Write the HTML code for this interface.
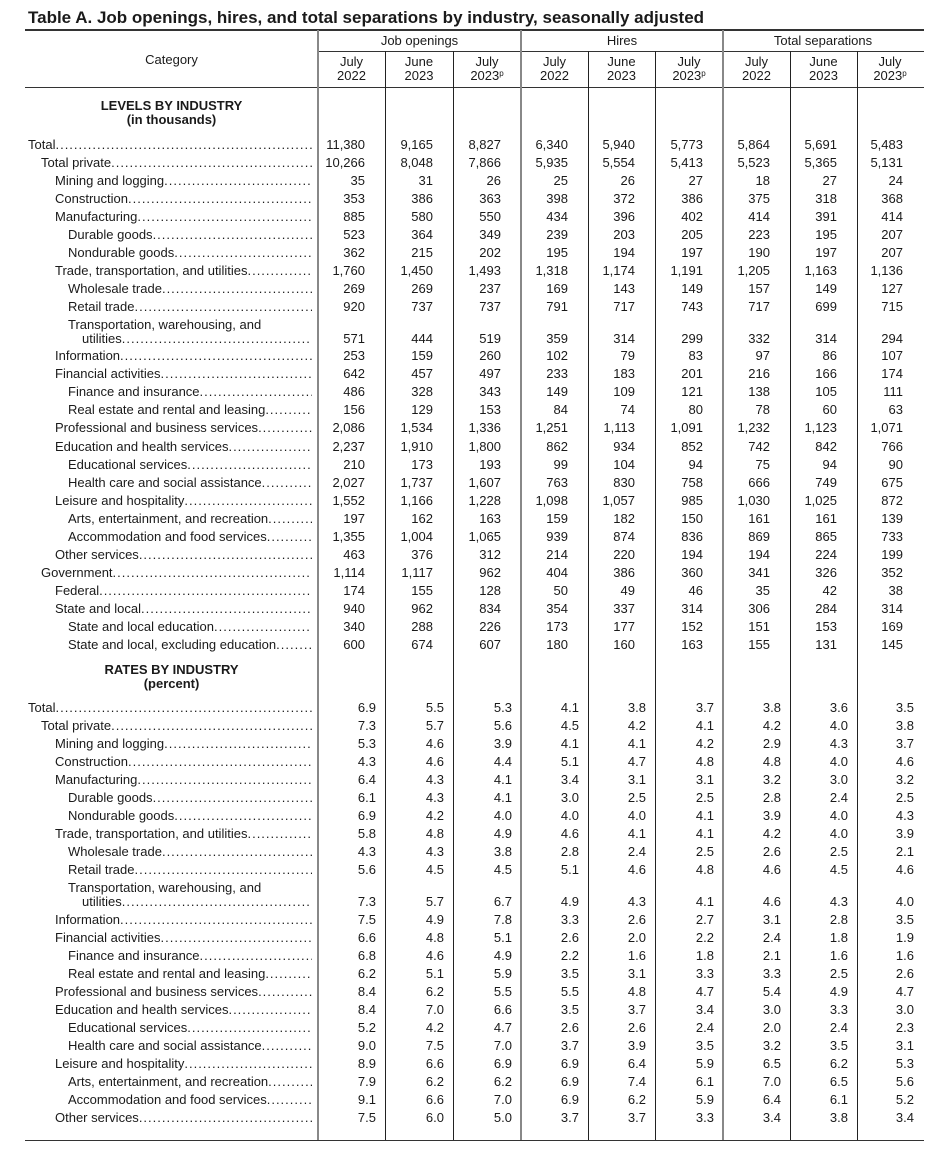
<!DOCTYPE html>
<html><head><meta charset="utf-8"><style>
body{margin:0;background:#fff;width:949px;height:1158px;position:relative;overflow:hidden;font-family:"Liberation Sans",Arial,sans-serif;color:#1a1a1a;font-size:13px}
.t{position:absolute;left:28px;top:8px;font-weight:bold;font-size:17px;white-space:nowrap}
.h{position:absolute;background:#333}
.v{position:absolute;top:51px;height:1089px;width:1px;background:#222}
.g{top:30px;height:1110px;width:2px;background:#888}
.c{position:absolute;text-align:center;line-height:14px}
.r{position:absolute;left:0;width:949px;height:16px;line-height:16px}
.l{position:absolute;top:0;white-space:nowrap;overflow:hidden}
.l span{letter-spacing:1px}
.r i{position:absolute;top:0;font-style:normal;text-align:right}
.r i:nth-of-type(1){left:318px;width:67px}
.r i:nth-of-type(2){left:385px;width:68px}
.r i:nth-of-type(3){left:453px;width:68px}
.r i:nth-of-type(4){left:521px;width:67px}
.r i:nth-of-type(5){left:588px;width:67px}
.r i:nth-of-type(6){left:655px;width:68px}
.r i:nth-of-type(7){left:723px;width:67px}
.r i:nth-of-type(8){left:790px;width:67px}
.r i:nth-of-type(9){left:857px;width:66px}
.L i{box-sizing:border-box;padding-right:20px}
.R i{box-sizing:border-box;padding-right:9px}
.i0{left:28px;width:284px}.i1{left:41px;width:271px}.i2{left:55px;width:257px}.i3{left:68px;width:244px}.i4{left:82px;width:230px}
.sec{position:absolute;left:25px;width:293px;text-align:center;font-weight:bold;line-height:14px}
sup{font-size:8px;vertical-align:4px;line-height:0}
</style></head><body>
<div class="t">Table A. Job openings, hires, and total separations by industry, seasonally adjusted</div>
<div class="h" style="left:25px;top:29px;width:899px;height:2px"></div>
<div class="h" style="left:318px;top:51px;width:606px;height:1px"></div>
<div class="h" style="left:25px;top:87px;width:899px;height:1px"></div>
<div class="h" style="left:25px;top:1140px;width:899px;height:1px"></div>
<div class="v g" style="left:317px"></div>
<div class="v" style="left:385px"></div>
<div class="v" style="left:453px"></div>
<div class="v g" style="left:520px"></div>
<div class="v" style="left:588px"></div>
<div class="v" style="left:655px"></div>
<div class="v g" style="left:722px"></div>
<div class="v" style="left:790px"></div>
<div class="v" style="left:857px"></div>
<div class="c" style="left:25px;width:293px;top:53px">Category</div>
<div class="c" style="left:318px;width:203px;top:34px">Job openings</div>
<div class="c" style="left:521px;width:202px;top:34px">Hires</div>
<div class="c" style="left:723px;width:200px;top:34px">Total separations</div>
<div class="c" style="left:318px;width:67px;top:55px">July<br>2022</div>
<div class="c" style="left:385px;width:68px;top:55px">June<br>2023</div>
<div class="c" style="left:453px;width:68px;top:55px">July<br>2023<sup>p</sup></div>
<div class="c" style="left:521px;width:67px;top:55px">July<br>2022</div>
<div class="c" style="left:588px;width:67px;top:55px">June<br>2023</div>
<div class="c" style="left:655px;width:68px;top:55px">July<br>2023<sup>p</sup></div>
<div class="c" style="left:723px;width:67px;top:55px">July<br>2022</div>
<div class="c" style="left:790px;width:67px;top:55px">June<br>2023</div>
<div class="c" style="left:857px;width:66px;top:55px">July<br>2023<sup>p</sup></div>
<div class="sec" style="top:99px">LEVELS BY INDUSTRY<br>(in thousands)</div>
<div class="sec" style="top:663px">RATES BY INDUSTRY<br>(percent)</div>

<div class="r L" style="top:137px"><div class="l i0">Total<span>..............................................................................</span></div><i>11,380</i><i>9,165</i><i>8,827</i><i>6,340</i><i>5,940</i><i>5,773</i><i>5,864</i><i>5,691</i><i>5,483</i></div>
<div class="r L" style="top:155px"><div class="l i1">Total private<span>..............................................................................</span></div><i>10,266</i><i>8,048</i><i>7,866</i><i>5,935</i><i>5,554</i><i>5,413</i><i>5,523</i><i>5,365</i><i>5,131</i></div>
<div class="r L" style="top:173px"><div class="l i2">Mining and logging<span>..............................................................................</span></div><i>35</i><i>31</i><i>26</i><i>25</i><i>26</i><i>27</i><i>18</i><i>27</i><i>24</i></div>
<div class="r L" style="top:191px"><div class="l i2">Construction<span>..............................................................................</span></div><i>353</i><i>386</i><i>363</i><i>398</i><i>372</i><i>386</i><i>375</i><i>318</i><i>368</i></div>
<div class="r L" style="top:209px"><div class="l i2">Manufacturing<span>..............................................................................</span></div><i>885</i><i>580</i><i>550</i><i>434</i><i>396</i><i>402</i><i>414</i><i>391</i><i>414</i></div>
<div class="r L" style="top:227px"><div class="l i3">Durable goods<span>..............................................................................</span></div><i>523</i><i>364</i><i>349</i><i>239</i><i>203</i><i>205</i><i>223</i><i>195</i><i>207</i></div>
<div class="r L" style="top:245px"><div class="l i3">Nondurable goods<span>..............................................................................</span></div><i>362</i><i>215</i><i>202</i><i>195</i><i>194</i><i>197</i><i>190</i><i>197</i><i>207</i></div>
<div class="r L" style="top:263px"><div class="l i2">Trade, transportation, and utilities<span>..............................................................................</span></div><i>1,760</i><i>1,450</i><i>1,493</i><i>1,318</i><i>1,174</i><i>1,191</i><i>1,205</i><i>1,163</i><i>1,136</i></div>
<div class="r L" style="top:281px"><div class="l i3">Wholesale trade<span>..............................................................................</span></div><i>269</i><i>269</i><i>237</i><i>169</i><i>143</i><i>149</i><i>157</i><i>149</i><i>127</i></div>
<div class="r L" style="top:299px"><div class="l i3">Retail trade<span>..............................................................................</span></div><i>920</i><i>737</i><i>737</i><i>791</i><i>717</i><i>743</i><i>717</i><i>699</i><i>715</i></div>
<div class="r L" style="top:317px"><div class="l i3">Transportation, warehousing, and</div></div>
<div class="r L" style="top:331px"><div class="l i4">utilities<span>..............................................................................</span></div><i>571</i><i>444</i><i>519</i><i>359</i><i>314</i><i>299</i><i>332</i><i>314</i><i>294</i></div>
<div class="r L" style="top:348px"><div class="l i2">Information<span>..............................................................................</span></div><i>253</i><i>159</i><i>260</i><i>102</i><i>79</i><i>83</i><i>97</i><i>86</i><i>107</i></div>
<div class="r L" style="top:366px"><div class="l i2">Financial activities<span>..............................................................................</span></div><i>642</i><i>457</i><i>497</i><i>233</i><i>183</i><i>201</i><i>216</i><i>166</i><i>174</i></div>
<div class="r L" style="top:384px"><div class="l i3">Finance and insurance<span>..............................................................................</span></div><i>486</i><i>328</i><i>343</i><i>149</i><i>109</i><i>121</i><i>138</i><i>105</i><i>111</i></div>
<div class="r L" style="top:402px"><div class="l i3">Real estate and rental and leasing<span>..............................................................................</span></div><i>156</i><i>129</i><i>153</i><i>84</i><i>74</i><i>80</i><i>78</i><i>60</i><i>63</i></div>
<div class="r L" style="top:420px"><div class="l i2">Professional and business services<span>..............................................................................</span></div><i>2,086</i><i>1,534</i><i>1,336</i><i>1,251</i><i>1,113</i><i>1,091</i><i>1,232</i><i>1,123</i><i>1,071</i></div>
<div class="r L" style="top:439px"><div class="l i2">Education and health services<span>..............................................................................</span></div><i>2,237</i><i>1,910</i><i>1,800</i><i>862</i><i>934</i><i>852</i><i>742</i><i>842</i><i>766</i></div>
<div class="r L" style="top:457px"><div class="l i3">Educational services<span>..............................................................................</span></div><i>210</i><i>173</i><i>193</i><i>99</i><i>104</i><i>94</i><i>75</i><i>94</i><i>90</i></div>
<div class="r L" style="top:475px"><div class="l i3">Health care and social assistance<span>..............................................................................</span></div><i>2,027</i><i>1,737</i><i>1,607</i><i>763</i><i>830</i><i>758</i><i>666</i><i>749</i><i>675</i></div>
<div class="r L" style="top:493px"><div class="l i2">Leisure and hospitality<span>..............................................................................</span></div><i>1,552</i><i>1,166</i><i>1,228</i><i>1,098</i><i>1,057</i><i>985</i><i>1,030</i><i>1,025</i><i>872</i></div>
<div class="r L" style="top:511px"><div class="l i3">Arts, entertainment, and recreation<span>..............................................................................</span></div><i>197</i><i>162</i><i>163</i><i>159</i><i>182</i><i>150</i><i>161</i><i>161</i><i>139</i></div>
<div class="r L" style="top:529px"><div class="l i3">Accommodation and food services<span>..............................................................................</span></div><i>1,355</i><i>1,004</i><i>1,065</i><i>939</i><i>874</i><i>836</i><i>869</i><i>865</i><i>733</i></div>
<div class="r L" style="top:547px"><div class="l i2">Other services<span>..............................................................................</span></div><i>463</i><i>376</i><i>312</i><i>214</i><i>220</i><i>194</i><i>194</i><i>224</i><i>199</i></div>
<div class="r L" style="top:565px"><div class="l i1">Government<span>..............................................................................</span></div><i>1,114</i><i>1,117</i><i>962</i><i>404</i><i>386</i><i>360</i><i>341</i><i>326</i><i>352</i></div>
<div class="r L" style="top:583px"><div class="l i2">Federal<span>..............................................................................</span></div><i>174</i><i>155</i><i>128</i><i>50</i><i>49</i><i>46</i><i>35</i><i>42</i><i>38</i></div>
<div class="r L" style="top:601px"><div class="l i2">State and local<span>..............................................................................</span></div><i>940</i><i>962</i><i>834</i><i>354</i><i>337</i><i>314</i><i>306</i><i>284</i><i>314</i></div>
<div class="r L" style="top:619px"><div class="l i3">State and local education<span>..............................................................................</span></div><i>340</i><i>288</i><i>226</i><i>173</i><i>177</i><i>152</i><i>151</i><i>153</i><i>169</i></div>
<div class="r L" style="top:637px"><div class="l i3">State and local, excluding education<span>..............................................................................</span></div><i>600</i><i>674</i><i>607</i><i>180</i><i>160</i><i>163</i><i>155</i><i>131</i><i>145</i></div>

<div class="r R" style="top:700px"><div class="l i0">Total<span>..............................................................................</span></div><i>6.9</i><i>5.5</i><i>5.3</i><i>4.1</i><i>3.8</i><i>3.7</i><i>3.8</i><i>3.6</i><i>3.5</i></div>
<div class="r R" style="top:718px"><div class="l i1">Total private<span>..............................................................................</span></div><i>7.3</i><i>5.7</i><i>5.6</i><i>4.5</i><i>4.2</i><i>4.1</i><i>4.2</i><i>4.0</i><i>3.8</i></div>
<div class="r R" style="top:736px"><div class="l i2">Mining and logging<span>..............................................................................</span></div><i>5.3</i><i>4.6</i><i>3.9</i><i>4.1</i><i>4.1</i><i>4.2</i><i>2.9</i><i>4.3</i><i>3.7</i></div>
<div class="r R" style="top:754px"><div class="l i2">Construction<span>..............................................................................</span></div><i>4.3</i><i>4.6</i><i>4.4</i><i>5.1</i><i>4.7</i><i>4.8</i><i>4.8</i><i>4.0</i><i>4.6</i></div>
<div class="r R" style="top:772px"><div class="l i2">Manufacturing<span>..............................................................................</span></div><i>6.4</i><i>4.3</i><i>4.1</i><i>3.4</i><i>3.1</i><i>3.1</i><i>3.2</i><i>3.0</i><i>3.2</i></div>
<div class="r R" style="top:790px"><div class="l i3">Durable goods<span>..............................................................................</span></div><i>6.1</i><i>4.3</i><i>4.1</i><i>3.0</i><i>2.5</i><i>2.5</i><i>2.8</i><i>2.4</i><i>2.5</i></div>
<div class="r R" style="top:808px"><div class="l i3">Nondurable goods<span>..............................................................................</span></div><i>6.9</i><i>4.2</i><i>4.0</i><i>4.0</i><i>4.0</i><i>4.1</i><i>3.9</i><i>4.0</i><i>4.3</i></div>
<div class="r R" style="top:826px"><div class="l i2">Trade, transportation, and utilities<span>..............................................................................</span></div><i>5.8</i><i>4.8</i><i>4.9</i><i>4.6</i><i>4.1</i><i>4.1</i><i>4.2</i><i>4.0</i><i>3.9</i></div>
<div class="r R" style="top:844px"><div class="l i3">Wholesale trade<span>..............................................................................</span></div><i>4.3</i><i>4.3</i><i>3.8</i><i>2.8</i><i>2.4</i><i>2.5</i><i>2.6</i><i>2.5</i><i>2.1</i></div>
<div class="r R" style="top:862px"><div class="l i3">Retail trade<span>..............................................................................</span></div><i>5.6</i><i>4.5</i><i>4.5</i><i>5.1</i><i>4.6</i><i>4.8</i><i>4.6</i><i>4.5</i><i>4.6</i></div>
<div class="r R" style="top:880px"><div class="l i3">Transportation, warehousing, and</div></div>
<div class="r R" style="top:894px"><div class="l i4">utilities<span>..............................................................................</span></div><i>7.3</i><i>5.7</i><i>6.7</i><i>4.9</i><i>4.3</i><i>4.1</i><i>4.6</i><i>4.3</i><i>4.0</i></div>
<div class="r R" style="top:912px"><div class="l i2">Information<span>..............................................................................</span></div><i>7.5</i><i>4.9</i><i>7.8</i><i>3.3</i><i>2.6</i><i>2.7</i><i>3.1</i><i>2.8</i><i>3.5</i></div>
<div class="r R" style="top:930px"><div class="l i2">Financial activities<span>..............................................................................</span></div><i>6.6</i><i>4.8</i><i>5.1</i><i>2.6</i><i>2.0</i><i>2.2</i><i>2.4</i><i>1.8</i><i>1.9</i></div>
<div class="r R" style="top:948px"><div class="l i3">Finance and insurance<span>..............................................................................</span></div><i>6.8</i><i>4.6</i><i>4.9</i><i>2.2</i><i>1.6</i><i>1.8</i><i>2.1</i><i>1.6</i><i>1.6</i></div>
<div class="r R" style="top:966px"><div class="l i3">Real estate and rental and leasing<span>..............................................................................</span></div><i>6.2</i><i>5.1</i><i>5.9</i><i>3.5</i><i>3.1</i><i>3.3</i><i>3.3</i><i>2.5</i><i>2.6</i></div>
<div class="r R" style="top:984px"><div class="l i2">Professional and business services<span>..............................................................................</span></div><i>8.4</i><i>6.2</i><i>5.5</i><i>5.5</i><i>4.8</i><i>4.7</i><i>5.4</i><i>4.9</i><i>4.7</i></div>
<div class="r R" style="top:1002px"><div class="l i2">Education and health services<span>..............................................................................</span></div><i>8.4</i><i>7.0</i><i>6.6</i><i>3.5</i><i>3.7</i><i>3.4</i><i>3.0</i><i>3.3</i><i>3.0</i></div>
<div class="r R" style="top:1020px"><div class="l i3">Educational services<span>..............................................................................</span></div><i>5.2</i><i>4.2</i><i>4.7</i><i>2.6</i><i>2.6</i><i>2.4</i><i>2.0</i><i>2.4</i><i>2.3</i></div>
<div class="r R" style="top:1038px"><div class="l i3">Health care and social assistance<span>..............................................................................</span></div><i>9.0</i><i>7.5</i><i>7.0</i><i>3.7</i><i>3.9</i><i>3.5</i><i>3.2</i><i>3.5</i><i>3.1</i></div>
<div class="r R" style="top:1056px"><div class="l i2">Leisure and hospitality<span>..............................................................................</span></div><i>8.9</i><i>6.6</i><i>6.9</i><i>6.9</i><i>6.4</i><i>5.9</i><i>6.5</i><i>6.2</i><i>5.3</i></div>
<div class="r R" style="top:1074px"><div class="l i3">Arts, entertainment, and recreation<span>..............................................................................</span></div><i>7.9</i><i>6.2</i><i>6.2</i><i>6.9</i><i>7.4</i><i>6.1</i><i>7.0</i><i>6.5</i><i>5.6</i></div>
<div class="r R" style="top:1092px"><div class="l i3">Accommodation and food services<span>..............................................................................</span></div><i>9.1</i><i>6.6</i><i>7.0</i><i>6.9</i><i>6.2</i><i>5.9</i><i>6.4</i><i>6.1</i><i>5.2</i></div>
<div class="r R" style="top:1110px"><div class="l i2">Other services<span>..............................................................................</span></div><i>7.5</i><i>6.0</i><i>5.0</i><i>3.7</i><i>3.7</i><i>3.3</i><i>3.4</i><i>3.8</i><i>3.4</i></div>
</body></html>
